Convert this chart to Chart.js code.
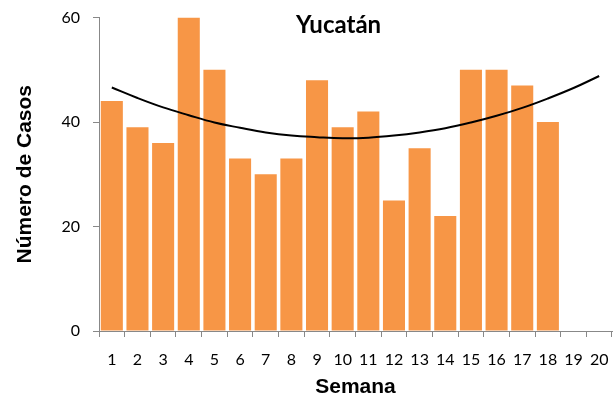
<!DOCTYPE html>
<html>
<head>
<meta charset="utf-8">
<script src="https://cdn.jsdelivr.net/npm/chart.js@4/dist/chart.umd.min.js"></script>
<style>
  html, body { margin: 0; padding: 0; background: #ffffff; }
  #wrap { position: relative; width: 614px; height: 400px; }
</style>
</head>
<body>
<div id="wrap"><canvas id="c" width="614" height="400"></canvas></div>
<script>
// Data
const weeks = ['1','2','3','4','5','6','7','8','9','10','11','12','13','14','15','16','17','18','19','20'];
const cases = [44, 39, 36, 60, 50, 33, 30, 33, 48, 39, 42, 25, 35, 22, 50, 50, 47, 40];
// Polynomial (order 2) trend line, values read at each week
const trend = [46.6, 44.6, 42.8, 41.3, 39.9, 38.9, 38.0, 37.4, 37.1, 36.9, 37.0, 37.4, 38.0, 38.8, 39.9, 41.2, 42.7, 44.5, 46.5, 48.8];
const yTicks = [0, 20, 40, 60];
const chartTitle = 'Yucatán';
const xTitle = 'Semana';
const yTitle = 'Número de Casos';

const axisColor = '#888888';

const titlePlugin = {
  id: 'overlayTitle',
  afterDraw(chart) {
    const ctx = chart.ctx;
    ctx.save();
    ctx.font = 'bold 24px Lato';
    ctx.fillStyle = '#000000';
    ctx.textAlign = 'center';
    ctx.textBaseline = 'alphabetic';
    ctx.fillText(chartTitle, 338.5, 33.3);
    ctx.restore();
  }
};

new Chart(document.getElementById('c'), {
  data: {
    labels: weeks,
    datasets: [
      {
        type: 'line',
        data: trend,
        borderColor: '#000000',
        borderWidth: 2,
        pointRadius: 0,
        fill: false,
        tension: 0.4,
        order: 0
      },
      {
        type: 'bar',
        data: cases,
        backgroundColor: '#F79646',
        borderWidth: 0,
        barPercentage: 0.86,
        categoryPercentage: 1.0,
        order: 1
      }
    ]
  },
  options: {
    responsive: false,
    animation: false,
    devicePixelRatio: 1,
    layout: { padding: { top: 17.5, right: 2, bottom: 0, left: 0 } },
    plugins: {
      legend: { display: false },
      tooltip: { enabled: false },
      title: { display: false }
    },
    scales: {
      x: {
        type: 'category',
        grid: {
          display: true,
          drawOnChartArea: false,
          drawTicks: true,
          tickLength: 6,
          color: axisColor,
          offset: true
        },
        border: { display: true, color: axisColor, width: 1 },
        ticks: {
          color: '#000000',
          font: { family: 'Lato', size: 16 },
          padding: 13,
          maxRotation: 0,
          autoSkip: false
        },
        title: {
          display: true,
          text: xTitle,
          color: '#000000',
          font: { family: 'Liberation Sans', size: 21, weight: 'bold' },
          padding: { top: 0, bottom: 0 }
        },
        afterFit(scale) {
          scale.height = 69;
          scale.paddingLeft = 0;
          scale.paddingRight = 0;
        }
      },
      y: {
        min: 0,
        max: 60,
        afterBuildTicks(scale) { scale.ticks = yTicks.map(v => ({ value: v })); },
        grid: {
          display: true,
          drawOnChartArea: false,
          drawTicks: true,
          tickLength: 6,
          color: axisColor
        },
        border: { display: true, color: axisColor, width: 1 },
        ticks: {
          color: '#000000',
          font: { family: 'Lato', size: 16 },
          padding: 13
        },
        title: {
          display: true,
          text: yTitle,
          color: '#000000',
          font: { family: 'Liberation Sans', size: 21, weight: 'bold' },
          padding: { top: 12.4, bottom: 0 }
        },
        afterFit(scale) {
          scale.width = 99;
          scale.paddingTop = 0;
          scale.paddingBottom = 0;
        }
      }
    }
  },
  plugins: [titlePlugin]
});
</script>
</body>
</html>
